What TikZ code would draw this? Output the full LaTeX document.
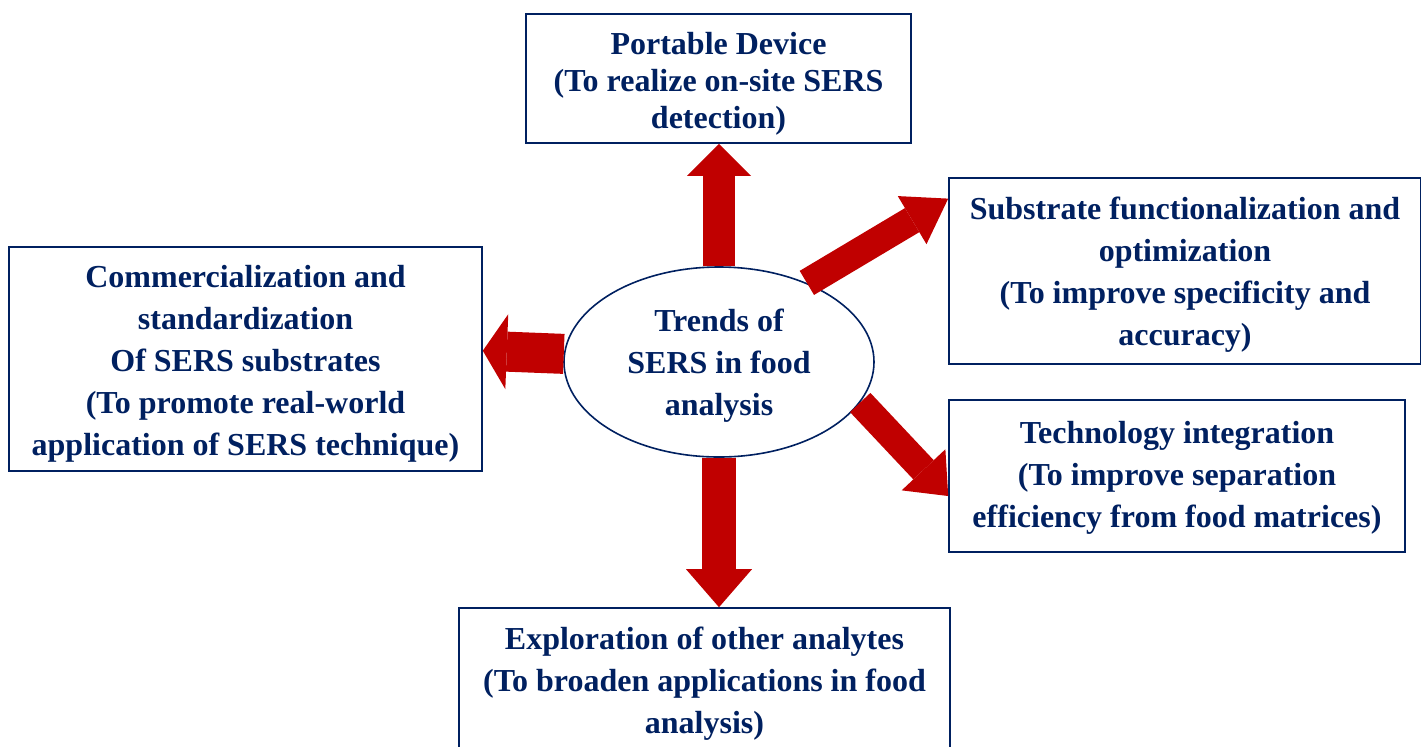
\documentclass[tikz,border=0pt]{standalone}
\usepackage{fontspec}
\setmainfont{Liberation Serif}
\usetikzlibrary{arrows.meta,shapes.geometric}

\definecolor{sersnavy}{HTML}{002060}
\definecolor{sersred}{HTML}{C00000}

% 首行加高, 使文字略微下移
\newcommand{\firstline}[1][16pt]{\rule{0pt}{#1}}

\tikzset{
  trendbox/.style={draw=sersnavy, line width=0.8pt, text=sersnavy, align=center, inner sep=0pt,
    font=\fontsize{16}{21}\selectfont\bfseries},
  sersarrow/.style n args={3}{sersred, line width=#1,
    -{Triangle[width=#2, length=#3, line width=0pt]}}
}

\begin{document}
\begin{tikzpicture}[x=0.5pt, y=-0.5pt]

        % 画布范围
        \clip (0,0) rectangle (1421,746);

        % 中心椭圆
        \node[trendbox, ellipse, minimum width=155pt, minimum height=95pt] (trend) at (719,362)
            {\firstline[15pt]Trends of\\SERS in food\\analysis};

        % 五个方框
        \node[trendbox, minimum width=192.5pt, minimum height=64.5pt,
              font=\fontsize{16}{18.5}\selectfont\bfseries] (port) at (718.5,78.5)
            {\firstline Portable Device\\(To realize on-site SERS\\detection)};
        \node[trendbox, minimum width=236pt, minimum height=93pt] (sub) at (1185,271)
            {\firstline[15pt]Substrate functionalization and\\optimization\\(To improve specificity and\\accuracy)};
        \node[trendbox, minimum width=236.5pt, minimum height=112pt] (comm) at (245.5,359)
            {\firstline Commercialization and\\standardization\\Of SERS substrates\\(To promote real-world\\application of SERS technique)};
        \node[trendbox, minimum width=228pt, minimum height=76pt] (tech) at (1177,476)
            {\firstline[12.5pt]Technology integration\\(To improve separation\\efficiency from food matrices)};
        \node[trendbox, minimum width=245.5pt, minimum height=72.5pt] (explore) at (704.5,680.5)
            {\firstline[14pt]Exploration of other analytes\\(To broaden applications in food\\analysis)};

        % 红色箭头
        \draw[sersarrow={16pt}{32pt}{16pt}] (trend.north) -- (trend.north |- port.south);
        \draw[sersarrow={14pt}{28pt}{21pt}] (trend.42) -- (sub.163);
        \draw[sersarrow={14pt}{30pt}{18pt}] (trend.-16) -- (tech.185);
        \draw[sersarrow={17pt}{33pt}{19pt}] (trend.south) -- (trend.south |- explore.north);
        \draw[sersarrow={20pt}{37.5pt}{12pt}] (trend.177) -- (comm.2);

    \end{tikzpicture}
\end{document}
